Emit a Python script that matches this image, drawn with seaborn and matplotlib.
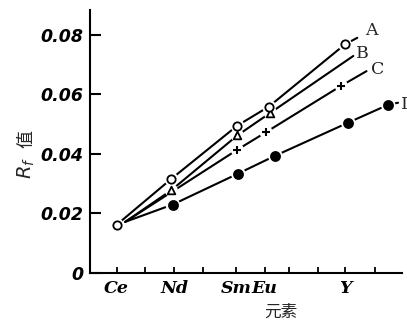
import numpy as np
import pandas as pd
import seaborn as sns
from matplotlib import pyplot as plt

# element positions along the x axis (tick units)
elements = ['Ce', 'Nd', 'Sm', 'Eu', 'Y']
element_pos = [0, 2, 4.15, 5.15, 7.95]
plain_ticks = [1, 3, 6, 7, 9]

# series: x position, Rf value (tail points carry no marker)
a_x = [0, 1.9, 4.2, 5.3, 7.95, 8.38]
a_y = [0.0162, 0.0316, 0.0495, 0.0559, 0.0768, 0.0790]
b_x = [0.3, 1.9, 4.2, 5.35, 8.24]
b_y = [0.0172, 0.0278, 0.0462, 0.0538, 0.0729]
c_x = [0.3, 4.2, 5.2, 7.82, 8.7]
c_y = [0.0172, 0.0414, 0.0473, 0.0629, 0.0678]
i_x = [0.3, 1.95, 4.23, 5.52, 8.06, 9.45, 9.8]
i_y = [0.0172, 0.0230, 0.0334, 0.0394, 0.0505, 0.0565, 0.0572]

series_names = ['A', 'B', 'C', 'I']
yticks = [0, 0.02, 0.04, 0.06, 0.08]
ytick_labels = ['0', '0.02', '0.04', '0.06', '0.08']

sns.set_style('white', {'xtick.bottom': True, 'ytick.left': True,
                        'xtick.direction': 'in', 'ytick.direction': 'in',
                        'xtick.color': 'black', 'ytick.color': 'black'})
plt.rcParams['font.family'] = ['DejaVu Sans', 'Noto Sans CJK SC']

fig = plt.figure(figsize=(4.07, 3.27), dpi=100)
ax = fig.add_axes([0.221, 0.165, 0.767, 0.805])


def draw(xs, ys, marker, mark_idx, ms, fill):
    df = pd.DataFrame({'x': xs, 'y': ys})
    sns.lineplot(data=df, x='x', y='y', sort=False, estimator=None, ax=ax,
                 color='black', lw=1.5, zorder=2)
    pts = df.iloc[mark_idx]
    # white halo so the line breaks around the mark
    sns.scatterplot(data=pts, x='x', y='y', ax=ax, marker='o', s=(ms + 4) ** 2,
                    color='white', edgecolor='none', zorder=3)
    if marker == '+':
        sns.scatterplot(data=pts, x='x', y='y', ax=ax, marker='+', s=ms ** 2,
                        color='black', linewidth=1.5, zorder=4)
    else:
        sns.scatterplot(data=pts, x='x', y='y', ax=ax, marker=marker, s=ms ** 2,
                        color=fill, edgecolor='black', linewidth=1.3, zorder=4)


draw(i_x, i_y, 'o', [1, 2, 3, 4, 5], 6.5, 'black')
draw(c_x, c_y, '+', [1, 2, 3], 5.5, 'black')
draw(b_x, b_y, '^', [1, 2, 3], 5.5, 'white')
draw(a_x, a_y, 'o', [0, 1, 2, 3, 4], 6, 'white')

# curve labels
lab_font = dict(family='DejaVu Serif', fontsize=12.5, va='center', ha='left',
                clip_on=False)
ax.text(8.65, 0.0816, 'A', **lab_font)
ax.text(8.35, 0.0736, 'B', **lab_font)
ax.text(8.85, 0.0683, 'C', **lab_font)
ax.text(9.9, 0.0566, 'I', **lab_font)

ax.set_xlim(-0.93, 9.94)
ax.set_ylim(0, 0.0884)
ax.set_xticks(plain_ticks, minor=True)
ax.set_xticks(element_pos)
ax.set_xticklabels(elements, family='DejaVu Serif', fontstyle='italic',
                   fontweight='bold', fontsize=12.5)
ax.set_yticks(yticks)
ax.set_yticklabels(ytick_labels, fontstyle='italic', fontweight='bold',
                   fontsize=12.5)
ax.tick_params(axis='y', left=True, direction='in', length=8, width=1.5,
               pad=5, color='black')
ax.tick_params(axis='x', which='both', bottom=True, direction='in', length=4,
               width=1.3, pad=5)
ax.set_xlabel('')
ax.set_ylabel('')

for side in ['top', 'right']:
    ax.spines[side].set_visible(False)
for side in ['left', 'bottom']:
    ax.spines[side].set_linewidth(1.5)
    ax.spines[side].set_color('black')

fig.text(0.065, 0.485, r'$R_f$', rotation=90, fontsize=14, ha='center',
         va='center', family='DejaVu Serif')
fig.text(0.065, 0.575, '值', rotation=90, fontsize=13, ha='center',
         va='center', family=['Noto Sans CJK SC', 'DejaVu Sans'])
fig.text(0.69, 0.045, '元素', fontsize=12, ha='center', va='center',
         family=['Noto Sans CJK SC', 'DejaVu Sans'])

fig.savefig('out.png', dpi=100)
